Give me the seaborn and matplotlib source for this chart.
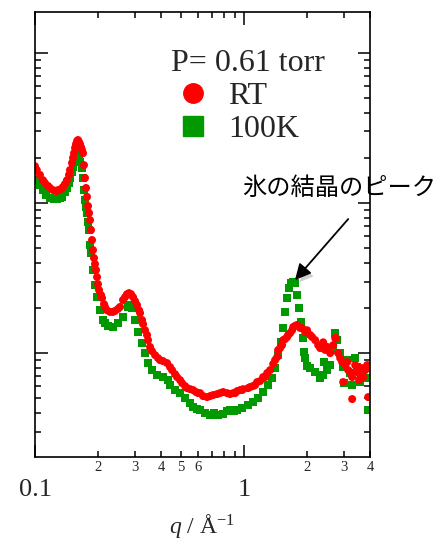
import matplotlib
matplotlib.use("Agg")
import matplotlib.pyplot as plt
import matplotlib.patheffects as pe
from matplotlib.lines import Line2D
from matplotlib.ticker import FixedLocator, FixedFormatter, LogLocator, FuncFormatter, NullFormatter
import seaborn as sns
import pandas as pd

# Scattering intensity vs q at P = 0.61 torr
rt_q = [0.100, 0.102, 0.1056, 0.1092, 0.1116, 0.1154, 0.118, 0.1219, 0.126, 0.1288,
        0.1332, 0.1361, 0.1391, 0.1422, 0.1454, 0.147, 0.1503, 0.152, 0.1537, 0.1554,
        0.1571, 0.1589, 0.1606, 0.1624, 0.1642, 0.166, 0.1678, 0.1697, 0.1715, 0.1734,
        0.1754, 0.1773, 0.1793, 0.1813, 0.1833, 0.1853, 0.1874, 0.1894, 0.1915, 0.1936,
        0.1958, 0.198, 0.2001, 0.2024, 0.2069, 0.2092, 0.2138, 0.2162, 0.221, 0.2285,
        0.2361, 0.2414, 0.2495, 0.2551, 0.2636, 0.2695, 0.2755, 0.2817, 0.2879, 0.2944,
        0.3009, 0.3076, 0.3145, 0.318, 0.3251, 0.3287, 0.3359, 0.3434, 0.3472, 0.3549,
        0.3628, 0.3751, 0.3877, 0.3963, 0.4097, 0.4281, 0.4424, 0.4523, 0.4675, 0.4779,
        0.494, 0.505, 0.522, 0.5336, 0.5515, 0.5702, 0.5893, 0.6024, 0.6158, 0.6365,
        0.6653, 0.6877, 0.7108, 0.7428, 0.7678, 0.7936, 0.8293, 0.857, 0.8859, 0.9058,
        0.9258, 0.957, 0.978, 0.989, 1.045, 1.068, 1.104, 1.129, 1.154, 1.193,
        1.233, 1.260, 1.289, 1.331, 1.377, 1.407, 1.439, 1.454, 1.487, 1.520,
        1.537, 1.571, 1.606, 1.624, 1.660, 1.697, 1.716, 1.754, 1.793, 1.853,
        1.894, 1.958, 2.001, 2.069, 2.115, 2.187, 2.26, 2.31, 2.388, 2.441,
        2.495, 2.579, 2.666, 2.725, 2.756, 2.817, 2.88, 2.944, 2.977, 3.043,
        3.111, 3.145, 3.216, 3.287, 3.287, 3.398, 3.473, 3.512, 3.549, 3.589,
        3.669, 3.71, 3.793, 3.877, 3.92, 3.964]
rt_i = [17.6, 16.6, 15.4, 14.2, 13.6, 13.0, 12.6, 12.2, 12.0, 12.2,
        12.4, 12.8, 13.4, 14.2, 15.4, 16.6, 18.5, 20.0, 21.5, 23.3,
        24.7, 25.9, 26.3, 25.5, 24.7, 23.6, 22.6, 21.5, 17.9, 14.7,
        12.6, 11.0, 9.55, 8.58, 7.70, 6.61, 5.67, 4.86, 4.30, 3.92,
        3.58, 3.21, 2.88, 2.63, 2.44, 2.33, 2.12, 2.03, 1.93, 1.88,
        1.88, 1.91, 1.97, 2.03, 2.26, 2.36, 2.47, 2.51, 2.47, 2.36,
        2.22, 2.09, 1.93, 1.85, 1.66, 1.56, 1.42, 1.32, 1.22, 1.10,
        1.03, 0.970, 0.926, 0.898, 0.884, 0.858, 0.807, 0.770, 0.724, 0.692,
        0.661, 0.631, 0.603, 0.584, 0.575, 0.567, 0.550, 0.541, 0.541, 0.517,
        0.509, 0.517, 0.525, 0.533, 0.541, 0.550, 0.541, 0.533, 0.541, 0.541,
        0.558, 0.567, 0.567, 0.575, 0.584, 0.594, 0.603, 0.612, 0.641, 0.651,
        0.692, 0.692, 0.736, 0.770, 0.845, 0.898, 0.940, 1.047, 1.08, 1.13,
        1.22, 1.24, 1.28, 1.32, 1.36, 1.42, 1.49, 1.52, 1.54, 1.47,
        1.47, 1.38, 1.42, 1.32, 1.28, 1.22, 1.13, 1.08, 1.18, 1.05,
        1.10, 1.00, 1.13, 1.26, 1.26, 1.00, 0.926, 0.871, 0.641, 0.832,
        0.871, 0.770, 0.747, 0.692, 0.494, 0.832, 0.747, 0.807, 0.661, 0.681,
        0.794, 0.692, 0.770, 0.832, 0.509, 0.794]

k100_q = [0.100, 0.1022, 0.1056, 0.1092, 0.1129, 0.118, 0.1233, 0.1274, 0.1317, 0.1346,
          0.1391, 0.1422, 0.1454, 0.147, 0.1503, 0.152, 0.1554, 0.1589, 0.1606, 0.1624,
          0.1642, 0.1678, 0.1697, 0.1715, 0.1734, 0.1754, 0.1773, 0.1793, 0.1813, 0.1833,
          0.1853, 0.1894, 0.1936, 0.198, 0.2046, 0.2115, 0.2162, 0.2235, 0.2361, 0.2495,
          0.2636, 0.2786, 0.2848, 0.2911, 0.3009, 0.311, 0.3251, 0.3359, 0.3472, 0.3628,
          0.3834, 0.4097, 0.4329, 0.4424, 0.4675, 0.494, 0.522, 0.5515, 0.5702, 0.5958,
          0.6158, 0.6507, 0.6877, 0.7187, 0.7509, 0.7936, 0.8293, 0.857, 0.896, 0.9258,
          0.978, 1.045, 1.104, 1.167, 1.233, 1.303, 1.361, 1.407, 1.454, 1.503,
          1.537, 1.571, 1.606, 1.642, 1.679, 1.716, 1.754, 1.793, 1.833, 1.874,
          1.915, 1.937, 1.958, 2.001, 2.069, 2.187, 2.31, 2.388, 2.414, 2.495,
          2.579, 2.666, 2.725, 2.786, 2.88, 2.977, 3.010, 3.111, 3.216, 3.287,
          3.398, 3.473, 3.589, 3.71, 3.834, 3.92]
k100_i = [16.6, 14.2, 13.2, 12.2, 11.3, 10.8, 10.6, 10.6, 10.8, 11.0,
          11.8, 12.6, 13.6, 14.7, 16.1, 17.4, 19.4, 20.9, 21.9, 20.6,
          18.8, 17.1, 14.7, 12.2, 10.5, 9.40, 8.58, 7.47, 6.61, 5.25,
          4.64, 3.58, 2.84, 2.36, 1.93, 1.66, 1.59, 1.51, 1.49, 1.59,
          1.74, 2.03, 2.09, 2.00, 1.66, 1.38, 1.17, 1.00, 0.858, 0.770,
          0.713, 0.692, 0.661, 0.612, 0.567, 0.541, 0.501, 0.464, 0.437, 0.423,
          0.417, 0.398, 0.386, 0.398, 0.386, 0.392, 0.411, 0.417, 0.411, 0.417,
          0.430, 0.450, 0.471, 0.501, 0.550, 0.612, 0.681, 0.794, 0.970, 1.18,
          1.47, 1.88, 2.33, 2.71, 2.93, 2.97, 2.93, 2.44, 2.00, 1.61,
          1.26, 1.02, 0.926, 0.819, 0.794, 0.747, 0.681, 0.713, 0.871, 0.770,
          0.832, 1.05, 1.36, 1.22, 1.00, 0.807, 0.631, 0.898, 0.736, 0.612,
          0.926, 0.807, 0.641, 0.747, 0.681, 0.417]

series_labels = ["RT", "100K"]
legend_title = "P= 0.61 torr"
annotation_text = "氷の結晶のピーク"
ice_peak = (1.716, 2.97)

x_major = [0.1, 1]
x_major_labels = ["0.1", "1"]
x_minor_shown = {0.2: "2", 0.3: "3", 0.4: "4", 0.5: "5", 0.6: "6",
                 2.0: "2", 3.0: "3", 4.0: "4"}

RED = "#ff0000"
GREEN = "#009900"

sns.set_style("ticks")
plt.rcParams["font.family"] = ["Liberation Serif", "DejaVu Serif"]
plt.rcParams["mathtext.fontset"] = "custom"
plt.rcParams["mathtext.rm"] = "Liberation Serif"
plt.rcParams["mathtext.it"] = "Liberation Serif:italic"

df = pd.concat([
    pd.DataFrame({"q": k100_q, "I": k100_i, "sample": series_labels[1]}),
    pd.DataFrame({"q": rt_q, "I": rt_i, "sample": series_labels[0]}),
], ignore_index=True)

fig = plt.figure(figsize=(4.43, 5.41), dpi=100)
ax = fig.add_axes([35 / 443, 84 / 541, 335 / 443, 445 / 541])

sns.scatterplot(data=df, x="q", y="I", hue="sample", style="sample",
                palette={series_labels[0]: RED, series_labels[1]: GREEN},
                markers={series_labels[0]: "o", series_labels[1]: "s"},
                s=33, linewidth=0, legend=False, ax=ax)

ax.set_xscale("log")
ax.set_yscale("log")
ax.set_xlim(0.1, 4.0)
ax.set_ylim(0.203, 187.6)

# x ticks: large decade labels, small labels for selected minor ticks
ax.xaxis.set_major_locator(FixedLocator(x_major))
ax.xaxis.set_major_formatter(FixedFormatter(x_major_labels))
ax.xaxis.set_minor_locator(LogLocator(base=10, subs=range(2, 10), numticks=20))


def minor_label(v, pos):
    for key, lab in x_minor_shown.items():
        if abs(v - key) / key < 1e-3:
            return lab
    return ""


ax.xaxis.set_minor_formatter(FuncFormatter(minor_label))

ax.yaxis.set_major_locator(LogLocator(base=10, numticks=10))
ax.yaxis.set_minor_locator(LogLocator(base=10, subs=range(2, 10), numticks=20))
ax.yaxis.set_major_formatter(NullFormatter())
ax.yaxis.set_minor_formatter(NullFormatter())

ax.tick_params(which="both", direction="in", top=True, right=True, color="black",
               width=1.1)
ax.tick_params(which="major", length=9)
ax.tick_params(which="minor", length=4)
ax.tick_params(axis="x", which="major", labelsize=19, pad=16)
ax.tick_params(axis="x", which="minor", labelsize=10.5, pad=3)
ax.tick_params(axis="y", labelleft=False, labelright=False)
for sp in ax.spines.values():
    sp.set_linewidth(1.2)
    sp.set_color("black")

ax.set_ylabel("")
ax.set_xlabel(r"$q$ / Å$^{-1}$", fontsize=17, labelpad=8)

handles = [Line2D([], [], marker="o", ls="", color=RED, markersize=14),
           Line2D([], [], marker="s", ls="", color=GREEN, markersize=14)]
leg = ax.legend(handles, series_labels, title=legend_title, frameon=False,
                loc="upper left", bbox_to_anchor=(171 / 443, 1 - 49 / 541),
                bbox_transform=fig.transFigure, borderpad=0, borderaxespad=0,
                prop={"family": "Liberation Serif", "size": 23},
                title_fontproperties={"family": "Liberation Serif", "size": 23},
                alignment="left", handlelength=1.35, handletextpad=0.45,
                labelspacing=0.12)

# arrow pointing at the ice crystal peak
arrow_tail = (3.146, 7.82)
ax.annotate("", xy=ice_peak, xytext=arrow_tail, annotation_clip=False,
            arrowprops=dict(arrowstyle="-|>", mutation_scale=24, lw=1.3,
                            color="black", shrinkA=0, shrinkB=2,
                            path_effects=[pe.SimplePatchShadow(offset=(2.5, -2.5),
                                                               shadow_rgbFace="0.45",
                                                               alpha=0.35),
                                          pe.Normal()]))
fig.text(242 / 443, 1 - 188 / 541, annotation_text, ha="left", va="center",
         fontsize=17.5, family=["Noto Sans CJK JP", "DejaVu Sans"], color="black")

fig.savefig("out.png", dpi=100)
